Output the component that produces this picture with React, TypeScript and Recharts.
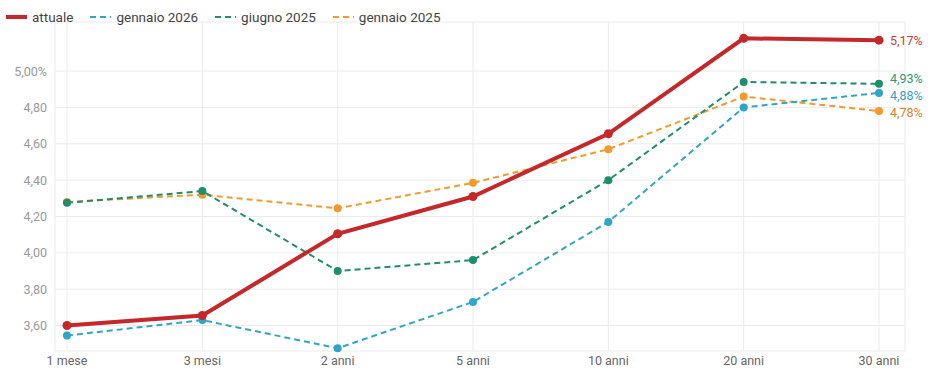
import { LineChart, Line, XAxis, YAxis, CartesianGrid, LabelList } from 'recharts';

const scadenze = ['1 mese', '3 mesi', '2 anni', '5 anni', '10 anni', '20 anni', '30 anni'];
const attuale = [3.6, 3.655, 4.105, 4.31, 4.655, 5.18, 5.17];
const gennaio2026 = [3.545, 3.63, 3.475, 3.73, 4.17, 4.8, 4.88];
const giugno2025 = [4.275, 4.34, 3.9, 3.96, 4.4, 4.94, 4.93];
const gennaio2025 = [4.28, 4.32, 4.245, 4.385, 4.57, 4.86, 4.78];
const yTicks = [3.6, 3.8, 4.0, 4.2, 4.4, 4.6, 4.8, 5.0];

const data = scadenze.map((s, i) => ({
  scadenza: s,
  attuale: attuale[i],
  gen26: gennaio2026[i],
  giu25: giugno2025[i],
  gen25: gennaio2025[i],
}));

const series = [
  { key: 'gen25', name: 'gennaio 2025', color: '#f39a2c', label: '#d9822b', dy: 2, dashed: true },
  { key: 'giu25', name: 'giugno 2025', color: '#1e8e6c', label: '#2a9877', dy: -5, dashed: true },
  { key: 'gen26', name: 'gennaio 2026', color: '#2fa6c9', label: '#3a9fc2', dy: 3, dashed: true },
  { key: 'attuale', name: 'attuale', color: '#c4282a', label: '#cc3a3a', dy: 1, dashed: false },
];

const legendOrder = ['attuale', 'gen26', 'giu25', 'gen25'];

const fmt = (v: number) => v.toFixed(2).replace('.', ',');

const EndLabel = (color: string, dy: number) => (props: any) => {
  const { x, y, value, index } = props;
  if (index !== scadenze.length - 1) return null;
  return (
    <text x={x + 11} y={y + 4 + dy} fill={color} fontSize={12.5} fontFamily="Roboto, sans-serif">
      {fmt(value)}%
    </text>
  );
};

export default function App() {
  return (
    <div style={{ position: 'absolute', left: 0, top: 0, width: 930, height: 371, background: '#fff', fontFamily: 'Roboto, sans-serif' }}>
      <div style={{ position: 'absolute', left: 6, top: 9, display: 'flex', gap: 17, fontSize: 13.5, color: '#444', zIndex: 2 }}>
        {legendOrder.map((k) => {
          const s = series.find((x) => x.key === k)!;
          return (
            <div key={k} style={{ display: 'flex', alignItems: 'center', gap: 5 }}>
              <svg width={21} height={6}>
                <line
                  x1={0}
                  y1={3}
                  x2={21}
                  y2={3}
                  stroke={s.color}
                  strokeWidth={s.dashed ? 2 : 4}
                  strokeDasharray={s.dashed ? '6 4' : undefined}
                />
              </svg>
              <span>{s.name}</span>
            </div>
          );
        })}
      </div>
      <LineChart width={930} height={371} data={data} margin={{ top: 22, right: 25, bottom: 2, left: 0 }}>
        <CartesianGrid stroke="#ebebeb" strokeWidth={1} />
        <XAxis
          dataKey="scadenza"
          height={18}
          padding={{ left: 12, right: 26 }}
          axisLine={false}
          tickLine={false}
          tickSize={0}
          tickMargin={5}
          tick={{ fill: '#666', fontSize: 12.5 }}
          interval={0}
        />
        <YAxis
          width={55}
          domain={[3.46, 5.27]}
          ticks={yTicks}
          axisLine={false}
          tickLine={false}
          tickSize={0}
          tickMargin={8}
          tick={{ fill: '#999', fontSize: 12.5 }}
          tickFormatter={(v: number) => (v === 5 ? '5,00%' : fmt(v))}
        />
        {series.map((s) => (
          <Line
            key={s.key}
            dataKey={s.key}
            name={s.name}
            type="linear"
            stroke={s.color}
            strokeWidth={s.dashed ? 2 : 4}
            strokeDasharray={s.dashed ? '6 4' : undefined}
            dot={{ r: s.dashed ? 4 : 4.5, fill: s.color, stroke: s.color, strokeWidth: 0, strokeDasharray: '' }}
            activeDot={false}
            isAnimationActive={false}
          >
            <LabelList dataKey={s.key} content={EndLabel(s.label, s.dy)} />
          </Line>
        ))}
      </LineChart>
    </div>
  );
}
